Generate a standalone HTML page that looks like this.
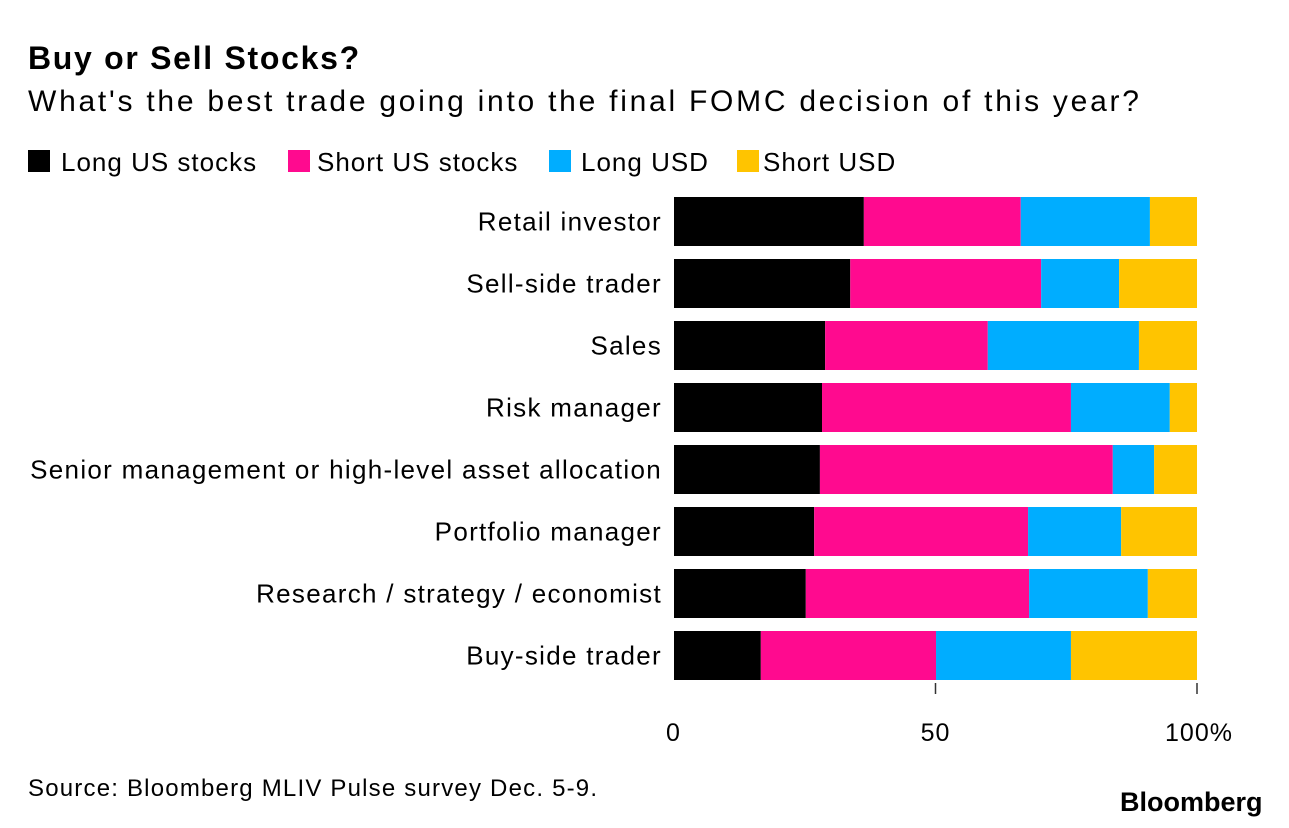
<!DOCTYPE html>
<html><head><meta charset="utf-8"><style>
body{margin:0;background:#fff;font-family:"Liberation Sans",sans-serif;}
#wrap{position:relative;width:1289px;height:828px;overflow:hidden;}
.t{position:absolute;white-space:nowrap;color:#000;}
.lg{position:absolute;top:0;white-space:nowrap;letter-spacing:1px;}
.sq{position:absolute;top:3px;width:22px;height:22px;}
</style></head><body>
<div id="wrap">
<div class="t" style="left:28px;top:40px;font-size:32px;font-weight:bold;letter-spacing:1.7px;">Buy or Sell Stocks?</div>
<div class="t" style="left:28px;top:85px;font-size:30px;letter-spacing:2.75px;">What's the best trade going into the final FOMC decision of this year?</div>
<div style="position:absolute;left:0;top:147px;font-size:26px;">
<i class="sq" style="left:28px;background:#000"></i><span class="lg" style="left:61px">Long US stocks</span>
<i class="sq" style="left:288px;background:#ff0a8f"></i><span class="lg" style="left:317px">Short US stocks</span>
<i class="sq" style="left:549px;background:#00adff"></i><span class="lg" style="left:581px">Long USD</span>
<i class="sq" style="left:737px;background:#ffc400"></i><span class="lg" style="left:763px">Short USD</span>
</div>
<svg id="plot" width="1289" height="828" style="position:absolute;left:0;top:0"></svg>
<div class="t" style="left:28px;top:775px;font-size:24px;letter-spacing:1.2px;">Source: Bloomberg MLIV Pulse survey Dec. 5-9.</div>
<div class="t" style="left:1120px;top:787px;font-size:27px;font-weight:bold;letter-spacing:0px;">Bloomberg</div>
</div>
<script>
const categories=["Retail investor","Sell-side trader","Sales","Risk manager","Senior management or high-level asset allocation","Portfolio manager","Research / strategy / economist","Buy-side trader"];
const longStocks=[36.3,33.7,28.9,28.3,27.9,26.8,25.2,16.6];
const shortStocks=[30,36.5,31.1,47.6,56,40.9,42.7,33.5];
const longUSD=[24.7,14.9,28.9,18.9,7.9,17.8,22.7,25.8];
const shortUSD=[9,14.9,11.1,5.2,8.2,14.5,9.4,24.1];
const tickValues=[0,50,100];
const tickLabels=["0","50","100%"];
const series=[longStocks,shortStocks,longUSD,shortUSD];
const colors=["#000","#ff0a8f","#00adff","#ffc400"];
const names=["long-us-stocks","short-us-stocks","long-usd","short-usd"];
const svg=document.getElementById('plot');const NS="http://www.w3.org/2000/svg";
const x=v=>674+v*5.23;const y=i=>197+i*62;const bh=49;
categories.forEach((c,i)=>{
 let acc=0;
 series.forEach((s,k)=>{
  const r=document.createElementNS(NS,'rect');
  r.setAttribute('x',x(acc));r.setAttribute('y',y(i));
  r.setAttribute('width',x(acc+s[i])-x(acc));r.setAttribute('height',bh);
  r.setAttribute('fill',colors[k]);
  
  
  svg.appendChild(r);acc+=s[i];
 });
 const t=document.createElementNS(NS,'text');
 t.setAttribute('x',662);t.setAttribute('y',y(i)+bh/2+9);
 t.setAttribute('text-anchor','end');t.setAttribute('font-size','26');
 t.setAttribute('letter-spacing','1.3');
 t.setAttribute('font-family','Liberation Sans, sans-serif');
 t.textContent=c;
 
 
 svg.appendChild(t);
});
tickValues.forEach((v,i)=>{
 if(v>0){const l=document.createElementNS(NS,'line');
 l.setAttribute('x1',x(v));l.setAttribute('x2',x(v));l.setAttribute('y1',683);l.setAttribute('y2',694);
 l.setAttribute('stroke','#333');l.setAttribute('stroke-width','1.5');
 
 
 svg.appendChild(l);}
 const t=document.createElementNS(NS,'text');
 t.setAttribute('x',x(v)+(v==100?2:0));t.setAttribute('y',741);
 t.setAttribute('text-anchor',v==0?'start':'middle');
 if(v==0)t.setAttribute('x',x(v)-8);
 t.setAttribute('font-size','25');t.setAttribute('font-family','Liberation Sans, sans-serif');
 t.setAttribute('letter-spacing','1');
 t.textContent=tickLabels[i];
 
 
 svg.appendChild(t);
});
</script>
</body></html>
